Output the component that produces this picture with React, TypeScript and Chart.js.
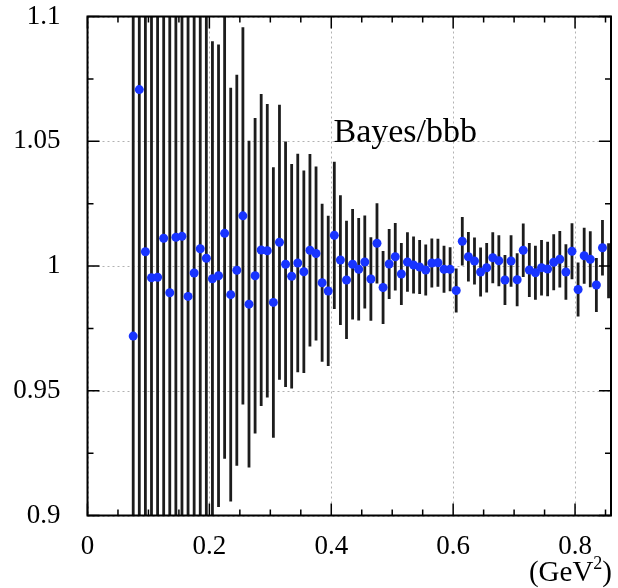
import { useEffect, useRef } from "react";
import { Chart, registerables } from "chart.js";

Chart.register(...registerables);

// Bin centres in Q^2 (GeV^2)
const X_VALUES = [
  0.075, 0.085, 0.095, 0.105, 0.115, 0.125, 0.135, 0.145, 0.155, 0.165,
  0.175, 0.185, 0.195, 0.205, 0.215, 0.225, 0.235, 0.245, 0.255, 0.265,
  0.275, 0.285, 0.295, 0.305, 0.315, 0.325, 0.335, 0.345, 0.355, 0.365,
  0.375, 0.385, 0.395, 0.405, 0.415, 0.425, 0.435, 0.445, 0.455, 0.465,
  0.475, 0.485, 0.495, 0.505, 0.515, 0.525, 0.535, 0.545, 0.555, 0.565,
  0.575, 0.585, 0.595, 0.605, 0.615, 0.625, 0.635, 0.645, 0.655, 0.665,
  0.675, 0.685, 0.695, 0.705, 0.715, 0.725, 0.735, 0.745, 0.755, 0.765,
  0.775, 0.785, 0.795, 0.805, 0.815, 0.825, 0.835, 0.845, 0.855,
];

// Ratio Bayes / bin-by-bin unfolding
const RATIO = [
  0.9719, 1.0707, 1.0057, 0.9953, 0.9955, 1.0111, 0.9893, 1.0115, 1.0119, 0.9878,
  0.9972, 1.0069, 1.0031, 0.9949, 0.9961, 1.0131, 0.9885, 0.9983, 1.0201, 0.9847,
  0.9961, 1.0064, 1.0061, 0.9854, 1.0095, 1.0007, 0.9959, 1.0012, 0.9977, 1.0063,
  1.0050, 0.9933, 0.9900, 1.0123, 1.0024, 0.9944, 1.0007, 0.9987, 1.0016, 0.9948,
  1.0091, 0.9914, 1.0008, 1.0037, 0.9968, 1.0016, 1.0004, 0.9996, 0.9984, 1.0012,
  1.0013, 0.9987, 0.9987, 0.9902, 1.0099, 1.0037, 1.0020, 0.9976, 0.9993, 1.0033,
  1.0021, 0.9944, 1.0020, 0.9945, 1.0063, 0.9984, 0.9973, 0.9993, 0.9988, 1.0015,
  1.0027, 0.9976, 1.0059, 0.9906, 1.0041, 1.0027, 0.9924, 1.0073, 0.9981,
];

// Symmetric uncertainty on each ratio
const RATIO_ERR = [
  0.300, 0.260, 0.230, 0.210, 0.190, 0.170, 0.160, 0.150, 0.140, 0.130,
  0.125, 0.120, 0.110, 0.0952, 0.0927, 0.0904, 0.0829, 0.0784, 0.0756, 0.0655,
  0.0632, 0.0625, 0.0588, 0.0542, 0.0551, 0.0492, 0.0450, 0.0438, 0.0406, 0.0386,
  0.0349, 0.0317, 0.0301, 0.0295, 0.0260, 0.0237, 0.0221, 0.0205, 0.0186, 0.0167,
  0.0161, 0.0146, 0.0140, 0.0135, 0.0124, 0.0119, 0.0114, 0.0108, 0.0102, 0.0098,
  0.0096, 0.0094, 0.0088, 0.0088, 0.0097, 0.0099, 0.0094, 0.0098, 0.0099, 0.0102,
  0.0102, 0.0100, 0.0103, 0.0106, 0.0107, 0.0108, 0.0108, 0.0111, 0.0109, 0.0112,
  0.0113, 0.0111, 0.0112, 0.0108, 0.0112, 0.0112, 0.0108, 0.0111, 0.0110,
];

const X_TICKS = [0, 0.2, 0.4, 0.6, 0.8];
const X_MINOR = [0.05, 0.1, 0.15, 0.25, 0.3, 0.35, 0.45, 0.5, 0.55, 0.65, 0.7, 0.75, 0.85];
const Y_TICKS = [0.9, 0.95, 1, 1.05, 1.1];
const Y_MINOR = [0.925, 0.975, 1.025, 1.075];

const X_MIN = 0;
const X_MAX = 0.859;
const Y_MIN = 0.9;
const Y_MAX = 1.1;

const SERIF = '"Liberation Serif", "DejaVu Serif", "Times New Roman", serif';

const framePlugin = {
  id: "frameAndErrors",
  beforeDatasetsDraw(chart: any) {
    const { ctx, chartArea: a } = chart;
    const xs = chart.scales.x;
    const ys = chart.scales.y;
    ctx.save();
    // dotted grid at major ticks
    ctx.strokeStyle = "rgba(0,0,0,0.3)";
    ctx.lineWidth = 1;
    ctx.setLineDash([2, 3]);
    for (const v of X_TICKS) {
      const px = Math.round(xs.getPixelForValue(v)) + 0.5;
      ctx.beginPath();
      ctx.moveTo(px, a.top);
      ctx.lineTo(px, a.bottom);
      ctx.stroke();
    }
    for (const v of Y_TICKS) {
      const py = Math.round(ys.getPixelForValue(v)) + 0.5;
      ctx.beginPath();
      ctx.moveTo(a.left, py);
      ctx.lineTo(a.right, py);
      ctx.stroke();
    }
    ctx.setLineDash([]);

    // vertical error bars, clipped to the frame
    ctx.beginPath();
    ctx.rect(a.left, a.top, a.right - a.left, a.bottom - a.top);
    ctx.clip();
    ctx.strokeStyle = "#1c1c1c";
    ctx.lineWidth = 2.8;
    for (let i = 0; i < X_VALUES.length; i++) {
      const px = xs.getPixelForValue(X_VALUES[i]);
      const y1 = ys.getPixelForValue(RATIO[i] - RATIO_ERR[i]);
      const y2 = ys.getPixelForValue(RATIO[i] + RATIO_ERR[i]);
      ctx.beginPath();
      ctx.moveTo(px, y1);
      ctx.lineTo(px, y2);
      ctx.stroke();
    }
    ctx.restore();
  },
  afterDatasetsDraw(chart: any) {
    const { ctx, chartArea: a } = chart;
    const xs = chart.scales.x;
    const ys = chart.scales.y;
    ctx.save();
    ctx.strokeStyle = "#000";
    ctx.lineWidth = 1.5;
    const major = 12;
    const minor = 6;
    // inward ticks on all four sides
    const xTick = (v: number, len: number) => {
      const px = xs.getPixelForValue(v);
      ctx.beginPath();
      ctx.moveTo(px, a.bottom);
      ctx.lineTo(px, a.bottom - len);
      ctx.moveTo(px, a.top);
      ctx.lineTo(px, a.top + len);
      ctx.stroke();
    };
    const yTick = (v: number, len: number) => {
      const py = ys.getPixelForValue(v);
      ctx.beginPath();
      ctx.moveTo(a.left, py);
      ctx.lineTo(a.left + len, py);
      ctx.moveTo(a.right, py);
      ctx.lineTo(a.right - len, py);
      ctx.stroke();
    };
    X_TICKS.forEach((v) => xTick(v, major));
    X_MINOR.forEach((v) => xTick(v, minor));
    Y_TICKS.forEach((v) => yTick(v, major));
    Y_MINOR.forEach((v) => yTick(v, minor));

    // frame
    ctx.lineWidth = 2;
    ctx.strokeRect(a.left, a.top, a.right - a.left, a.bottom - a.top);

    // annotation
    ctx.fillStyle = "#000";
    ctx.textBaseline = "alphabetic";
    ctx.textAlign = "left";
    ctx.font = `34px ${SERIF}`;
    ctx.fillText("Bayes/bbb", a.left + 246, a.top + 125);

    // axis unit with superscript
    const big = `29px ${SERIF}`;
    const small = `18px ${SERIF}`;
    ctx.font = big;
    const w1 = ctx.measureText("(GeV").width;
    const w3 = ctx.measureText(")").width;
    ctx.font = small;
    const w2 = ctx.measureText("2").width;
    const right = a.right + 1;
    const base = a.bottom + 65;
    let cx = right - (w1 + w2 + w3);
    ctx.font = big;
    ctx.fillText("(GeV", cx, base);
    cx += w1;
    ctx.font = small;
    ctx.fillText("2", cx, base - 12);
    cx += w2;
    ctx.font = big;
    ctx.fillText(")", cx, base);
    ctx.restore();
  },
};

export default function App() {
  const canvasRef = useRef<HTMLCanvasElement | null>(null);

  useEffect(() => {
    const canvas = canvasRef.current;
    if (!canvas) return;
    const chart = new Chart(canvas, {
      type: "scatter",
      data: {
        datasets: [
          {
            label: "Bayes/bbb",
            data: X_VALUES.map((x, i) => ({ x, y: RATIO[i] })),
            backgroundColor: "rgb(24,52,255)",
            borderColor: "rgb(24,52,255)",
            borderWidth: 0,
            pointRadius: X_VALUES.map((_, i) => (i === X_VALUES.length - 1 ? 0 : 4.5)),
            pointHoverRadius: 4.5,
          },
        ],
      },
      options: {
        responsive: false,
        animation: false,
        devicePixelRatio: 1,
        layout: { padding: { left: 0, right: 7, top: 16.5, bottom: 0 } },
        plugins: {
          legend: { display: false },
          tooltip: { enabled: false },
          title: { display: false },
        },
        scales: {
          x: {
            type: "linear",
            min: X_MIN,
            max: X_MAX,
            grid: { display: false },
            border: { display: false },
            afterBuildTicks: (scale: any) => {
              scale.ticks = X_TICKS.map((value) => ({ value }));
            },
            afterFit: (scale: any) => {
              scale.height = 72.5;
              scale.paddingLeft = 0;
              scale.paddingRight = 0;
            },
            ticks: {
              padding: 7,
              color: "#000",
              font: { family: SERIF, size: 27 },
              maxRotation: 0,
              autoSkip: false,
              callback: (v: any) => String(Number(Number(v).toFixed(2))),
            },
          },
          y: {
            type: "linear",
            min: Y_MIN,
            max: Y_MAX,
            grid: { display: false },
            border: { display: false },
            afterBuildTicks: (scale: any) => {
              scale.ticks = Y_TICKS.map((value) => ({ value }));
            },
            afterFit: (scale: any) => {
              scale.width = 87.5;
              scale.paddingTop = 0;
              scale.paddingBottom = 0;
            },
            ticks: {
              padding: 19,
              color: "#000",
              font: { family: SERIF, size: 27 },
              autoSkip: false,
              callback: (v: any) => String(Number(Number(v).toFixed(3))),
            },
          },
        },
      },
      plugins: [framePlugin],
    });
    return () => chart.destroy();
  }, []);

  return (
    <div style={{ position: "fixed", left: 0, top: 0, width: 618, height: 588, background: "#fff" }}>
      <canvas ref={canvasRef} width={618} height={588} style={{ width: 618, height: 588, display: "block" }} />
    </div>
  );
}
